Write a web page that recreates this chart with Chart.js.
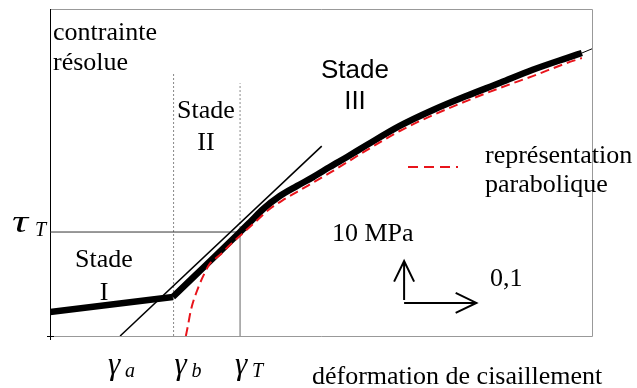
<!DOCTYPE html>
<html lang="fr">
<head>
    <meta charset="UTF-8">
    <title>Courbe de cission resolue</title>
    <script src="https://cdn.jsdelivr.net/npm/chart.js"></script>
    <style>
        body {
            margin: 0;
            background: #fff;
        }
        canvas {
            display: block;
        }
    </style>
</head>
<body>
    <canvas id="chartCanvas" width="637" height="388"></canvas>

    <script>
        // deformation (gamma) et contrainte (MPa)
        const gammaStadeI = [0, 0.170];
        const tauStadeI   = [5.7, 9.3];

        const gammaCourbe = [0.170, 0.263, 0.277, 0.295, 0.318, 0.342, 0.364, 0.387, 0.411, 0.439, 0.484, 0.530, 0.577, 0.623, 0.668, 0.715, 0.736];
        const tauCourbe   = [9.3, 24.8, 27.2, 30.3, 33.4, 35.8, 37.9, 40.3, 42.7, 45.6, 50.1, 53.9, 57.3, 60.4, 63.5, 66.3, 67.5];

        const gammaParab = [0.188, 0.191, 0.195, 0.205, 0.214, 0.221, 0.235, 0.249, 0.263, 0.284, 0.304, 0.325, 0.342, 0.387, 0.439, 0.484, 0.530, 0.577, 0.623, 0.668, 0.715, 0.736];
        const tauParab   = [0, 2.6, 6.2, 11.5, 15.0, 17.2, 19.3, 21.7, 23.9, 27.2, 30.3, 32.7, 34.4, 38.9, 44.4, 48.9, 52.7, 56.1, 59.2, 62.0, 65.1, 66.3];

        const gammaTangente = [0.097, 0.376];
        const tauTangente   = [0, 45.3];

        const gammaFin = [0.736, 0.750];
        const tauFin   = [67.5, 68.5];

        const gammaA = 0.097;
        const gammaB = 0.171;
        const gammaT = 0.263;
        const tauT = 24.8;
        const hautPointilleB = 63.0;
        const hautPointilleT = 60.3;

        // fleches d'echelle : 0,1 en deformation, 10 MPa en contrainte
        const echelleOrigine = [0.49, 7.9];
        const echelleGamma = 0.1;
        const echelleTau = 10;

        const xMax = 0.75;
        const yMax = 78;

        function pts(xs, ys) {
            return xs.map((x, i) => ({ x: x, y: ys[i] }));
        }

        const serif = '"Liberation Serif", "Times New Roman", serif';
        const sans = '"Liberation Sans", Arial, sans-serif';

        function texte(ctx, t, x, y, font, align) {
            ctx.font = font;
            ctx.textAlign = align || 'left';
            ctx.textBaseline = 'alphabetic';
            ctx.fillText(t, x, y);
        }

        function fleche(ctx, x1, y1, x2, y2) {
            const ang = Math.atan2(y2 - y1, x2 - x1);
            const L = 23, a = 0.45;
            ctx.beginPath();
            ctx.moveTo(x1, y1);
            ctx.lineTo(x2, y2);
            ctx.moveTo(x2 - L * Math.cos(ang - a), y2 - L * Math.sin(ang - a));
            ctx.lineTo(x2, y2);
            ctx.lineTo(x2 - L * Math.cos(ang + a), y2 - L * Math.sin(ang + a));
            ctx.stroke();
        }

        const cadre = {
            id: 'cadre',
            beforeDatasetsDraw(chart) {
                const { ctx, chartArea: a } = chart;
                ctx.save();
                ctx.lineWidth = 1;
                ctx.strokeStyle = '#999';
                ctx.beginPath();
                ctx.moveTo(a.left, a.top + 0.5);
                ctx.lineTo(a.right + 0.5, a.top + 0.5);
                ctx.lineTo(a.right + 0.5, a.bottom + 0.5);
                ctx.lineTo(a.left, a.bottom + 0.5);
                ctx.stroke();
                ctx.strokeStyle = '#000';
                ctx.beginPath();
                ctx.moveTo(a.left + 0.5, a.top);
                ctx.lineTo(a.left + 0.5, a.bottom + 4);
                ctx.moveTo(a.left - 3, a.bottom + 0.5);
                ctx.lineTo(a.left + 4, a.bottom + 0.5);
                ctx.stroke();
                ctx.restore();
            },
            afterDraw(chart) {
                const { ctx } = chart;
                const xs = chart.scales.x, ys = chart.scales.y;
                ctx.save();
                ctx.fillStyle = '#000';

                texte(ctx, 'contrainte', 53, 40, '26px ' + serif);
                texte(ctx, 'résolue', 53, 70, '26px ' + serif);

                texte(ctx, 'Stade', 206, 118, '26px ' + serif, 'center');
                texte(ctx, 'II', 206, 150, '26px ' + serif, 'center');
                texte(ctx, 'Stade', 104, 267, '26px ' + serif, 'center');
                texte(ctx, 'I', 104, 300, '26px ' + serif, 'center');
                texte(ctx, 'Stade', 355, 78, '26px ' + sans, 'center');
                texte(ctx, 'III', 355, 109, '26px ' + sans, 'center');

                texte(ctx, 'représentation', 485, 163, '26px ' + serif);
                texte(ctx, 'parabolique', 485, 192, '26px ' + serif);

                texte(ctx, '10 MPa', 332, 241, '26px ' + serif);
                texte(ctx, '0,1', 490, 286, '26px ' + serif);
                texte(ctx, 'déformation de cisaillement', 312, 384, '26px ' + serif);

                // tau_T, un peu elargi comme la police Symbol
                ctx.save();
                ctx.translate(12, 232);
                ctx.scale(1.4, 1);
                texte(ctx, 'τ', 0, 0, 'italic 32px ' + serif);
                ctx.restore();
                texte(ctx, 'T', 35, 236, 'italic 20px ' + serif);

                const gam = [[gammaA, 'a', -12], [gammaB, 'b', 1], [gammaT, 'T', -5]];
                gam.forEach(g => {
                    const px = xs.getPixelForValue(g[0]) + g[2];
                    texte(ctx, 'γ', px, 374, 'italic 31px ' + serif);
                    texte(ctx, g[1], px + 17, 377, 'italic 20px ' + serif);
                });

                // legende parabole
                ctx.strokeStyle = '#e8141b';
                ctx.lineWidth = 2;
                ctx.setLineDash([10, 6]);
                ctx.beginPath();
                ctx.moveTo(408, 167);
                ctx.lineTo(458, 167);
                ctx.stroke();
                ctx.setLineDash([]);

                // fleches d'echelle
                ctx.strokeStyle = '#000';
                ctx.lineWidth = 2;
                const ox = xs.getPixelForValue(echelleOrigine[0]);
                const oy = ys.getPixelForValue(echelleOrigine[1]);
                fleche(ctx, ox, oy - 3, ox, ys.getPixelForValue(echelleOrigine[1] + echelleTau));
                fleche(ctx, ox, oy, xs.getPixelForValue(echelleOrigine[0] + echelleGamma), oy);

                ctx.restore();
            }
        };

        const ctx = document.getElementById('chartCanvas').getContext('2d');
        const chart = new Chart(ctx, {
            type: 'scatter',
            data: {
                datasets: [
                    {
                        label: 'représentation parabolique',
                        data: pts(gammaParab, tauParab),
                        borderColor: '#e8141b',
                        borderWidth: 2,
                        borderDash: [9, 5],
                        cubicInterpolationMode: 'monotone',
                        order: 0
                    },
                    {
                        label: 'stades II et III',
                        data: pts(gammaCourbe, tauCourbe),
                        borderColor: '#000',
                        borderWidth: 6.5,
                        cubicInterpolationMode: 'monotone',
                        borderCapStyle: 'butt',
                        order: 1
                    },
                    {
                        label: 'stade I',
                        data: pts(gammaStadeI, tauStadeI),
                        borderColor: '#000',
                        borderWidth: 6.5,
                        borderCapStyle: 'butt',
                        order: 2
                    },
                    {
                        label: 'fin',
                        data: pts(gammaFin, tauFin),
                        borderColor: '#000',
                        borderWidth: 1,
                        order: 3
                    },
                    {
                        label: 'tangente',
                        data: pts(gammaTangente, tauTangente),
                        borderColor: '#000',
                        borderWidth: 1.5,
                        order: 4
                    },
                    {
                        label: 'tauT',
                        data: pts([0, gammaT], [tauT, tauT]),
                        borderColor: '#333',
                        borderWidth: 1,
                        order: 5
                    },
                    {
                        label: 'gammaT plein',
                        data: pts([gammaT, gammaT], [0, tauT]),
                        borderColor: '#666',
                        borderWidth: 1,
                        order: 6
                    },
                    {
                        label: 'gammaT pointille',
                        data: pts([gammaT, gammaT], [tauT, hautPointilleT]),
                        borderColor: '#888',
                        borderWidth: 1,
                        borderDash: [2, 2],
                        order: 7
                    },
                    {
                        label: 'gammaB pointille',
                        data: pts([gammaB, gammaB], [0, hautPointilleB]),
                        borderColor: '#888',
                        borderWidth: 1,
                        borderDash: [2, 2],
                        order: 8
                    }
                ].map(d => Object.assign({ showLine: true, pointRadius: 0, pointHoverRadius: 0, fill: false }, d))
            },
            options: {
                responsive: false,
                animation: false,
                layout: {
                    padding: { left: 50, top: 9, right: 45, bottom: 52 }
                },
                scales: {
                    x: { type: 'linear', min: 0, max: xMax, display: false },
                    y: { type: 'linear', min: 0, max: yMax, display: false }
                },
                plugins: {
                    legend: { display: false },
                    tooltip: { enabled: false }
                }
            },
            plugins: [cadre]
        });
    </script>
</body>
</html>
